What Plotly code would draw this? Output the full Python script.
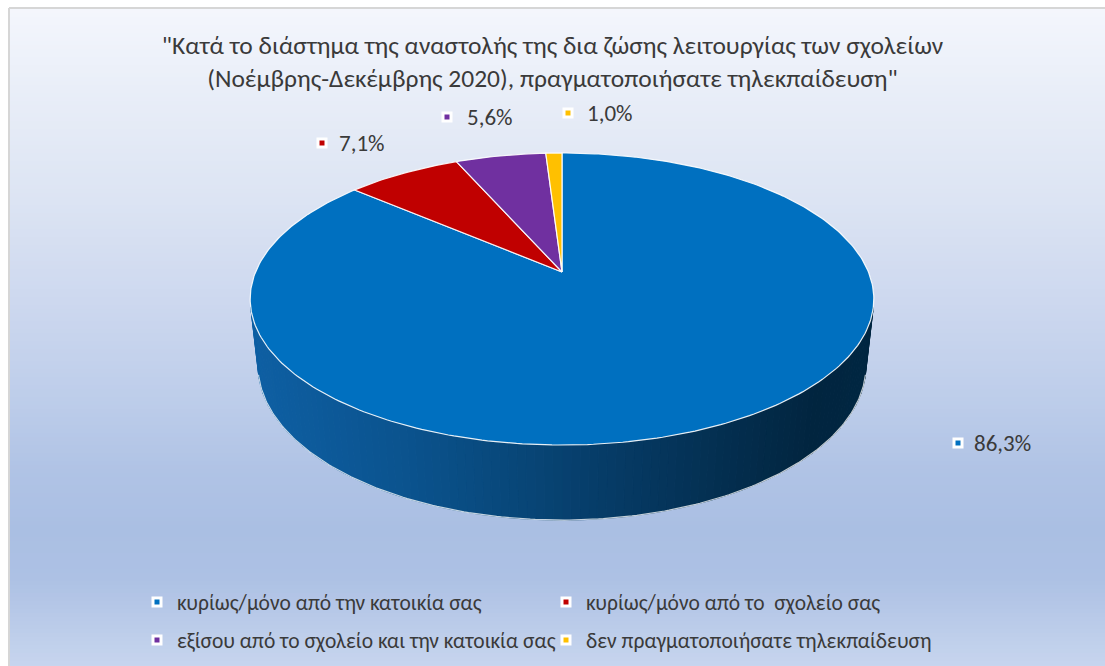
import numpy as np
import plotly.graph_objects as go

# ---------------- data ----------------
categories = [
    "κυρίως/μόνο από την κατοικία σας",
    "κυρίως/μόνο από το  σχολείο σας",
    "εξίσου από το σχολείο και την κατοικία σας",
    "δεν πραγματοποιήσατε τηλεκπαίδευση",
]
values = [86.3, 7.1, 5.6, 1.0]
colors = ["#0070C0", "#C00000", "#7030A0", "#FFC000"]
title_lines = [
    "\"Κατά το διάστημα της αναστολής της δια ζώσης λειτουργίας των σχολείων",
    "(Νοέμβρης-Δεκέμβρης 2020), πραγματοποιήσατε τηλεκπαίδευση\"",
]

# ---------------- layout constants ----------------
W, H = 1105, 666
FONT = "Carlito, 'Liberation Sans Narrow', 'DejaVu Sans Condensed', 'Open Sans', sans-serif"
TXT = "#3a3a3a"
CX, CY = 562.0, 272.0          # screen position of pie centre
ELEV = np.radians(28.0)        # viewing elevation
DIST = 5.407 * np.cos(ELEV)    # camera distance (in radii)
FY, FX = 1434.0, 1463.0        # focal scale
THICK = 0.254                  # pie thickness (in radii)

# label anchors (marker x, text x, y) in pixels
LABEL_MX = [958, 322, 447, 568]
LABEL_TX = [972, 337, 465, 585]
LABEL_Y = [443, 143, 117, 113]
# legend entries (text start x, centre y)
LEG_TX = [177, 586, 177, 586]
LEG_Y = [602, 602, 640, 640]


def proj(X, Hh, Z):
    X, Hh, Z = np.asarray(X, float), np.asarray(Hh, float), np.asarray(Z, float)
    depth = DIST - (Z * np.cos(ELEV) + Hh * np.sin(ELEV))
    sx = CX + FX * X / depth
    sy = CY + FY * (Z * np.sin(ELEV) - Hh * np.cos(ELEV)) / depth
    return sx, sy


def hex2rgb(h):
    h = h.lstrip("#")
    return np.array([int(h[i:i + 2], 16) for i in (0, 2, 4)], float)


def rgb(c):
    c = np.clip(np.round(c), 0, 255).astype(int)
    return f"rgb({c[0]},{c[1]},{c[2]})"


def interp_color(stops, t):
    ts = [s[0] for s in stops]
    cs = [hex2rgb(s[1]) for s in stops]
    for i in range(len(ts) - 1):
        if ts[i] <= t <= ts[i + 1]:
            f = (t - ts[i]) / (ts[i + 1] - ts[i]) if ts[i + 1] > ts[i] else 0
            return cs[i] * (1 - f) + cs[i + 1] * f
    return cs[-1] if t > ts[-1] else cs[0]


fig = go.Figure()
shapes = []

# ---------------- background ----------------
bg_stops = [
    (0.0, "#f5f7fd"), (90, "#e9eef8"), (200, "#dce4f3"), (300, "#cdd8ef"),
    (400, "#bdcdea"), (470, "#b0c3e5"), (530, "#aabfe3"), (580, "#adc1e4"),
    (666, "#c7d5ee"),
]
step = 4
for y0 in range(9, H, step):
    c = interp_color(bg_stops, y0 + step / 2)
    shapes.append(dict(type="rect", xref="x", yref="y", x0=10, x1=W, y0=y0, y1=min(y0 + step + 0.6, H),
                       fillcolor=rgb(c), line=dict(width=0), layer="below"))
shapes.append(dict(type="line", xref="x", yref="y", x0=9, x1=9, y0=8, y1=H,
                   line=dict(color="#d6d6d6", width=2), layer="below"))
shapes.append(dict(type="line", xref="x", yref="y", x0=9, x1=W, y0=8, y1=8,
                   line=dict(color="#d6d6d6", width=2), layer="below"))

# ---------------- pie geometry ----------------
total = float(sum(values))
bounds = np.concatenate([[0.0], np.cumsum(values) / total * 360.0])

# visible side range
phi_min = np.degrees(np.arccos(-1.0 / (DIST * np.cos(ELEV))))
phi_max = 360.0 - phi_min
sx_min, _ = proj(np.sin(np.radians(phi_max)), 0, -np.cos(np.radians(phi_max)))
sx_max, _ = proj(np.sin(np.radians(phi_min)), 0, -np.cos(np.radians(phi_min)))
shade_stops = [(0.0, "#d9d9d9"), (0.25, "#bdbdbd"), (0.5, "#949494"), (0.75, "#6b6b6b"),
               (0.9, "#545454"), (1.0, "#575757")]

n_strips = 110
edges = np.linspace(phi_min, phi_max, n_strips + 1)
for k in range(n_strips):
    pa, pb = edges[k], edges[k + 1]
    pm = 0.5 * (pa + pb)
    idx = int(np.searchsorted(bounds, pm, side="right") - 1)
    idx = min(max(idx, 0), len(values) - 1)
    ph = np.radians(np.linspace(pa, pb, 3))
    Xs, Zs = np.sin(ph), -np.cos(ph)
    tx, ty = proj(Xs, 0, Zs)
    bx, by = proj(Xs[::-1], -THICK, Zs[::-1])
    xs = np.concatenate([tx, bx, tx[:1]])
    ys = np.concatenate([ty, by, ty[:1]])
    mx, _ = proj(np.sin(np.radians(pm)), -THICK / 2, -np.cos(np.radians(pm)))
    t = float((mx - sx_min) / (sx_max - sx_min))
    s = interp_color(shade_stops, t) / 255.0
    col = rgb(hex2rgb(colors[idx]) * s + np.array([14, 0, 0]) * (1 - t))
    fig.add_trace(go.Scatter(x=xs, y=ys, mode="lines", fill="toself", fillcolor=col,
                             line=dict(color=col, width=1), hoverinfo="skip", showlegend=False))

# bottom outline of the side
ph = np.radians(np.linspace(phi_min, phi_max, 200))
bx, by = proj(np.sin(ph), -THICK, -np.cos(ph))
fig.add_trace(go.Scatter(x=bx, y=by, mode="lines", line=dict(color="rgba(255,255,255,0.75)", width=1.2),
                         hoverinfo="skip", showlegend=False))

# top face slices
for i, (cat, v, c) in enumerate(zip(categories, values, colors)):
    ph = np.radians(np.linspace(bounds[i], bounds[i + 1], max(4, int(v * 4))))
    ax, ay = proj(np.sin(ph), 0, -np.cos(ph))
    xs = np.concatenate([[CX], ax, [CX]])
    ys = np.concatenate([[CY], ay, [CY]])
    fig.add_trace(go.Scatter(x=xs, y=ys, mode="lines", fill="toself", fillcolor=c,
                             line=dict(color="rgba(255,255,255,0.9)", width=1.2),
                             name=cat, hovertemplate=f"{cat}: {v:.1f}%<extra></extra>",
                             showlegend=False))

# ---------------- data labels ----------------
label_texts = [f"{v:.1f}".replace(".", ",") + "%" for v in values]
fig.add_trace(go.Scatter(x=LABEL_MX, y=LABEL_Y, mode="markers",
                         marker=dict(symbol="square", size=8, color=colors,
                                     line=dict(color="white", width=3)),
                         hoverinfo="skip", showlegend=False))
annotations = []
for txt, tx, ty in zip(label_texts, LABEL_TX, LABEL_Y):
    annotations.append(dict(x=tx, y=ty, xref="x", yref="y", text=txt, showarrow=False,
                            xanchor="left", yanchor="middle",
                            font=dict(family=FONT, size=23, color=TXT)))

# ---------------- legend (4 single-entry legends laid out as 2x2) ----------------
legend_ids = ["legend", "legend2", "legend3", "legend4"]
for cat, c, lid in zip(categories, colors, legend_ids):
    fig.add_trace(go.Scatter(x=[None], y=[None], mode="markers", name=cat, legend=lid,
                             marker=dict(symbol="square", size=8, color=c,
                                         line=dict(color="white", width=3))))

layout_legends = {}
for lid, tx, ty in zip(legend_ids, LEG_TX, LEG_Y):
    layout_legends[lid] = dict(x=(tx - 40) / W, y=1 - ty / H, xanchor="left", yanchor="middle",
                               bgcolor="rgba(0,0,0,0)", borderwidth=0,
                               font=dict(family=FONT, size=21.5, color=TXT))

fig.update_layout(
    width=W, height=H,
    margin=dict(l=0, r=0, t=0, b=0),
    paper_bgcolor="white", plot_bgcolor="rgba(0,0,0,0)",
    title=dict(text="<br>".join(title_lines), x=0.5, xanchor="center", y=1 - 54 / H, yanchor="middle",
               font=dict(family=FONT, size=25.5, color=TXT)),
    xaxis=dict(range=[0, W], visible=False, fixedrange=True),
    yaxis=dict(range=[H, 0], visible=False, fixedrange=True),
    shapes=shapes, annotations=annotations,
    showlegend=True,
    **layout_legends,
)

fig.write_html("out.html", config={"displayModeBar": False},
               post_script="document.body.style.margin='0';document.body.style.overflow='hidden';")
